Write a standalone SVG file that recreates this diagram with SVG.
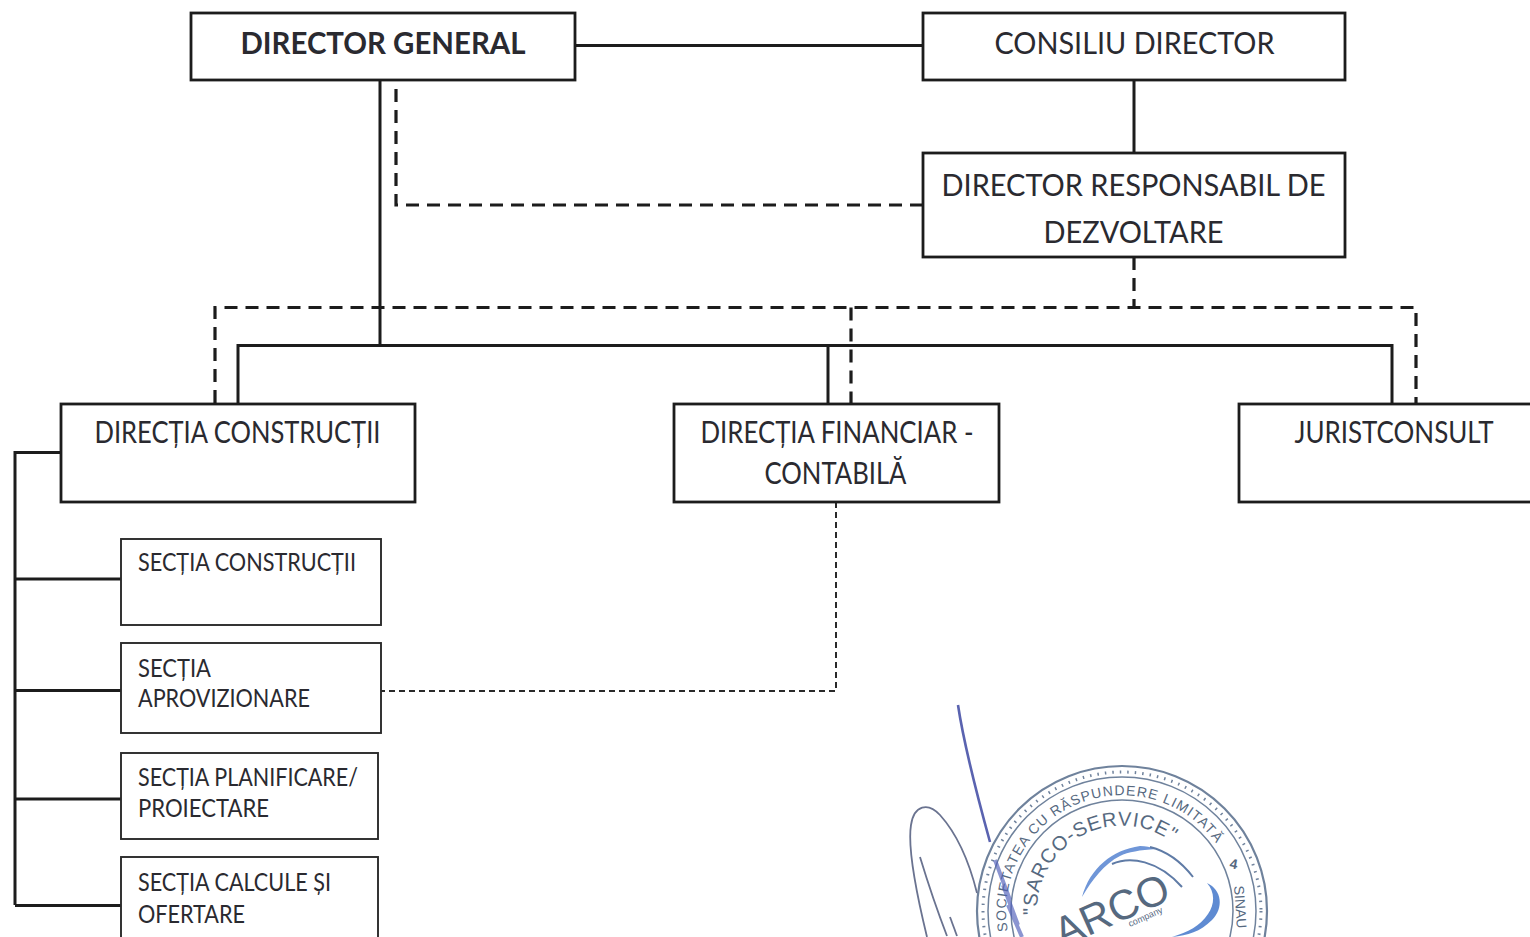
<svg xmlns="http://www.w3.org/2000/svg" width="1530" height="937" viewBox="0 0 1530 937">
<style>
.n{fill:#fff;stroke:#1c1c1c;stroke-width:2.8}
.s{fill:#fff;stroke:#2a2a2a;stroke-width:1.9}
.t{font-family:Lato,"Open Sans","Liberation Sans",sans-serif;fill:#2a2a30}
.a{font-size:31px;text-anchor:middle}
.b{font-size:24.5px}
.c{fill:none;stroke:#1c1c1c;stroke-width:3}
.d{fill:none;stroke:#1c1c1c;stroke-width:3.2;stroke-dasharray:13 8}
.e{fill:none;stroke:#2a2a2a;stroke-width:2;stroke-dasharray:6 4}
.r{fill:none;stroke:#6f829c}
.m{font-family:"Liberation Sans",Arial,sans-serif;fill:#56697f}
.sg{fill:none;stroke:#6a7390;stroke-width:1.8}
</style>
<defs>
<path id="arc-outer" d="M1007.800 931.100A116 116 0 0 1 1231 871.300"/>
<path id="arc-inner" d="M1037 915A85 85 0 0 1 1196 869"/>
</defs>
<rect width="1530" height="937" fill="#fff"/>
<g id="connectors">
<path class="c" d="M575 45.500H923M1134 80V153M380 80V345.500M238 403V345.500H1392V403M828 345.500V403M15 905V452.500H61M15 579H121M15 690.500H121M15 799H121M15 905.500H121"/>
<path class="d" d="M923 205H396V80M1134 257V307M215 403V307.500H1416V403M851 307.500V403"/>
<path class="e" d="M836 502V691H381"/>
</g>
<g id="director-general"><rect class="n" x="191" y="13" width="384" height="67"/><text class="t a" x="383" y="54" font-weight="700" textLength="285" lengthAdjust="spacingAndGlyphs">DIRECTOR GENERAL</text></g>
<g id="consiliu-director"><rect class="n" x="923" y="13" width="422" height="67"/><text class="t a" x="1134.500" y="54" textLength="280" lengthAdjust="spacingAndGlyphs">CONSILIU DIRECTOR</text></g>
<g id="director-responsabil"><rect class="n" x="923" y="153" width="422" height="104"/><text class="t a" x="1133.500" y="196" textLength="384" lengthAdjust="spacingAndGlyphs">DIRECTOR RESPONSABIL DE</text><text class="t a" x="1133.500" y="243" textLength="180" lengthAdjust="spacingAndGlyphs">DEZVOLTARE</text></g>
<g id="directia-constructii"><rect class="n" x="61" y="404" width="354" height="98"/><text class="t a" x="237.500" y="443" textLength="286" lengthAdjust="spacingAndGlyphs">DIRECȚIA CONSTRUCȚII</text></g>
<g id="directia-financiar"><rect class="n" x="674" y="404" width="325" height="98"/><text class="t a" x="837" y="443" textLength="273" lengthAdjust="spacingAndGlyphs">DIRECȚIA FINANCIAR -</text><text class="t a" x="835.500" y="484" textLength="142" lengthAdjust="spacingAndGlyphs">CONTABILĂ</text></g>
<g id="juristconsult"><rect class="n" x="1239" y="404" width="295" height="98"/><text class="t a" x="1394" y="443" textLength="199" lengthAdjust="spacingAndGlyphs">JURISTCONSULT</text></g>
<g id="sectia-constructii"><rect class="s" x="121" y="539" width="260" height="86"/><text class="t b" x="138" y="571" textLength="218" lengthAdjust="spacingAndGlyphs">SECȚIA CONSTRUCȚII</text></g>
<g id="sectia-aprovizionare"><rect class="s" x="121" y="643" width="260" height="90"/><text class="t b" x="138" y="677" textLength="73" lengthAdjust="spacingAndGlyphs">SECȚIA</text><text class="t b" x="138" y="707" textLength="172" lengthAdjust="spacingAndGlyphs">APROVIZIONARE</text></g>
<g id="sectia-planificare"><rect class="s" x="121" y="753" width="257" height="86"/><text class="t b" x="138" y="786" textLength="220" lengthAdjust="spacingAndGlyphs">SECȚIA PLANIFICARE/</text><text class="t b" x="138" y="817" textLength="131" lengthAdjust="spacingAndGlyphs">PROIECTARE</text></g>
<g id="sectia-calcule"><rect class="s" x="121" y="857" width="257" height="90"/><text class="t b" x="138" y="891" textLength="193" lengthAdjust="spacingAndGlyphs">SECȚIA CALCULE ȘI</text><text class="t b" x="138" y="923" textLength="107" lengthAdjust="spacingAndGlyphs">OFERTARE</text></g>
<g id="stamp">
<circle class="r" cx="1122" cy="911" r="145" stroke-width="2.2"/>
<circle class="r" cx="1122" cy="911" r="139" stroke-width="3" stroke-dasharray="1.500 6"/>
<circle class="r" cx="1122" cy="911" r="134" stroke-width="1.500"/>
<circle class="r" cx="1122" cy="911" r="111" stroke-width="1.500"/>
<text class="m" font-size="14" letter-spacing="1.100"><textPath href="#arc-outer">SOCIETATEA CU RĂSPUNDERE LIMITATĂ</textPath></text>
<text class="m" font-size="20" letter-spacing="0.800"><textPath href="#arc-inner">"SARCO-SERVICE"</textPath></text>
<text class="m" font-size="14" font-weight="700" transform="translate(1229 868) rotate(10)">4</text>
<text class="m" font-size="14" transform="translate(1234 886) rotate(86)">SINAU</text>
<text class="m" font-size="42" transform="translate(1062 948) rotate(-24)">ARCO</text>
<text class="m" font-size="9" transform="translate(1130 927) rotate(-24)">company</text>
<path d="M1082 897C1090 868 1112 850 1140 846C1146 846 1150 847 1156 849C1140 850 1128 852 1120 856C1104 864 1092 880 1082 897Z" fill="#6f96d8"/>
<path d="M1112 864C1130 856 1158 860 1182 887M1150 847C1170 852 1183 864 1193 877" fill="none" stroke="#5f7ba6" stroke-width="2"/>
<path d="M1207 883C1222 890 1224 908 1212 920C1200 932 1188 935 1172 937C1188 932 1200 926 1208 914C1215 904 1215 892 1207 883Z" fill="#5f8bd2"/>
</g>
<g id="signature">
<path d="M958 705C964 745 977 795 990 842" fill="none" stroke="#5a63b0" stroke-width="2.600"/>
<path d="M995 860L1010 900L1003 885L1018 925L1008 905L1022 937" fill="none" stroke="#4d5cb8" stroke-width="4" opacity=".65"/>
<path class="sg" d="M927 937C918 900 907 850 911 825C914 805 928 802 940 815C958 835 970 865 977 893"/>
<path class="sg" d="M947 936C937 910 927 880 920 857"/>
<path class="sg" d="M957 936L950 917"/>
</g>
</svg>
